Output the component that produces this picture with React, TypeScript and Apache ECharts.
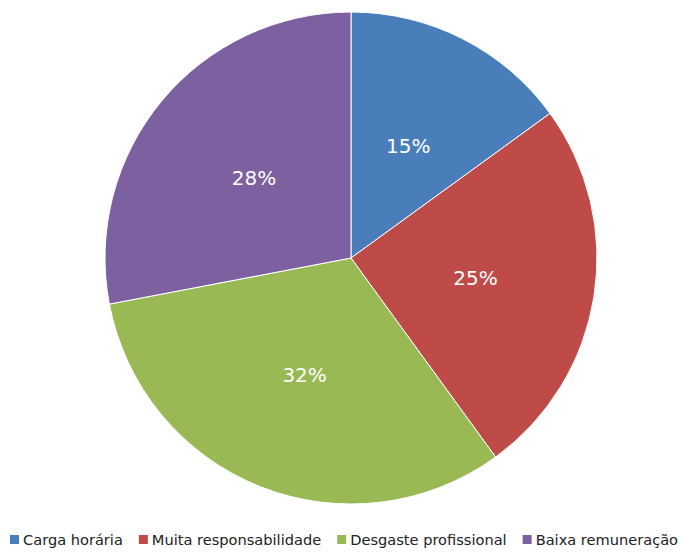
import React, { useEffect, useRef } from "react";
import * as echarts from "echarts";

const categories = ["Carga horária", "Muita responsabilidade", "Desgaste profissional", "Baixa remuneração"];
const values = [15, 25, 32, 28];
const colors = ["#4a7ebb", "#be4b48", "#98b954", "#7d60a0"];

export default function App() {
  const ref = useRef<HTMLDivElement>(null);
  useEffect(() => {
    const chart = echarts.init(ref.current!, null, { renderer: "svg" });
    chart.setOption({
      animation: false,
      color: colors,
      legend: {
        top: 532,
        left: 10,
        width: 720,
        padding: 0,
        icon: "rect",
        itemWidth: 9,
        itemHeight: 9,
        itemGap: 16,
        itemStyle: { borderWidth: 0 },
        textStyle: { fontFamily: "DejaVu Sans", fontSize: 14.6, color: "#222", padding: [0, 0, 0, -1] },
        data: categories,
      },
      series: [
        {
          type: "pie",
          center: [351, 258],
          radius: 246,
          startAngle: 90,
          clockwise: true,
          label: {
            position: "inside",
            formatter: "{d}%",
            color: "#fff",
            fontFamily: "DejaVu Sans",
            fontSize: 20,
          },
          labelLine: { show: false },
          itemStyle: { borderColor: "#fff", borderWidth: 1 },
          emphasis: { disabled: true },
          data: categories.map((c, i) => ({ name: c, value: values[i] })),
        },
      ],
    });
    return () => chart.dispose();
  }, []);
  return <div ref={ref} style={{ width: 696, height: 552, margin: "-8px 0 0 -8px" }} />;
}
